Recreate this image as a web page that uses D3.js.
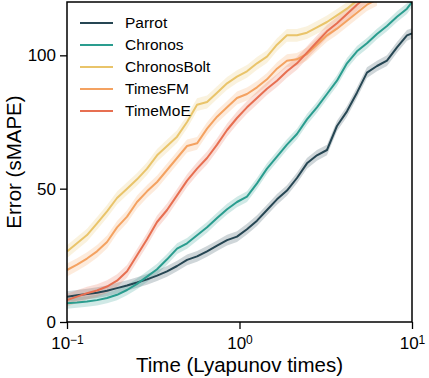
<!DOCTYPE html>
<html>
<head>
<meta charset="utf-8">
<script src="https://cdn.jsdelivr.net/npm/d3@7"></script>
<style>
  body { margin: 0; background: #fff; }
  svg { display: block; font-family: "Liberation Sans", Arial, Helvetica, sans-serif; }
</style>
</head>
<body>
<svg width="429" height="378"></svg>
<script>
// time grid (Lyapunov times), shared by every model
var times = [0.1, 0.1143, 0.1306, 0.1493, 0.1706, 0.195, 0.2229, 0.2547, 0.2911, 0.3327,
  0.3802, 0.4345, 0.4966, 0.5675, 0.6486, 0.7413, 0.8472, 0.967, 1.105, 1.263,
  1.443, 1.649, 1.884, 2.153, 2.461, 2.812, 3.214, 3.673, 4.198, 4.797,
  5.482, 6.265, 7.16, 8.183, 9.352, 10];

var models = ["Parrot", "Chronos", "ChronosBolt", "TimesFM", "TimeMoE"];
var colors = ["#264653", "#2a9d8f", "#e9c46a", "#f4a261", "#e76f51"];

// sMAPE per model
var parrot = [9.5, 10.0, 10.5, 11.0, 11.7, 12.7, 13.7, 14.8, 16.0, 17.4,
  19.0, 21.0, 23.3, 24.6, 26.5, 28.6, 30.7, 32.0, 34.8, 38.0,
  42.0, 46.0, 49.3, 54.0, 59.5, 62.5, 64.5, 73.5, 79.0, 86.0,
  93.5, 96.0, 98.0, 103.0, 107.5, 108.2];
var chronos = [7.0, 7.3, 7.7, 8.2, 9.0, 10.2, 12.0, 14.3, 17.0, 19.8,
  23.5, 27.5, 29.5, 32.5, 35.5, 39.0, 42.3, 45.0, 47.0, 52.0,
  57.5, 62.0, 66.5, 70.5, 76.0, 80.5, 85.5, 90.5, 97.0, 101.5,
  104.5, 108.0, 111.0, 114.5, 117.5, 120.0];
var chronosBolt = [26.4, 29.5, 32.6, 37.0, 41.5, 46.5, 50.0, 53.5, 57.5, 62.5,
  66.0, 69.5, 75.0, 81.5, 82.5, 86.0, 89.5, 92.0, 94.0, 97.0,
  99.5, 104.0, 107.5, 107.5, 108.5, 110.5, 112.5, 115.0, 117.5, 120.5];
var timesFM = [19.5, 21.5, 23.8, 26.5, 30.0, 35.5, 39.5, 45.0, 49.0, 52.5,
  57.0, 61.5, 66.0, 67.0, 72.5, 77.0, 80.5, 84.0, 85.5, 88.0,
  91.0, 95.0, 98.0, 98.5, 100.5, 104.0, 107.5, 110.0, 113.0, 116.0,
  119.0, 121.0];
var timeMoE = [8.2, 9.5, 10.8, 11.8, 13.3, 15.5, 19.0, 25.0, 31.0, 37.5,
  42.0, 47.5, 53.0, 57.5, 61.5, 66.5, 72.0, 76.5, 80.5, 84.0,
  87.5, 90.5, 94.0, 97.0, 101.0, 105.0, 109.0, 112.0, 115.5, 119.0,
  122.0];

// half width of the shaded band
var bandHalf = [2.0, 2.0, 2.4, 2.4, 2.4];

var seriesValues = [parrot, chronos, chronosBolt, timesFM, timeMoE];

var svg = d3.select("svg"),
  margin = {top: 2, right: 17, bottom: 56, left: 67},
  width = +svg.attr("width") - margin.left - margin.right,
  height = +svg.attr("height") - margin.top - margin.bottom,
  g = svg.append("g").attr("transform", "translate(" + margin.left + "," + margin.top + ")");

var x = d3.scaleLog().domain([0.1, 10]).range([0, width]);
var y = d3.scaleLinear().domain([0, 120]).range([height, 0]);

g.append("clipPath").attr("id", "clip")
  .append("rect").attr("width", width).attr("height", height);

var plot = g.append("g").attr("clip-path", "url(#clip)");

var area = d3.area()
  .x(function(d) { return x(d.t); })
  .y0(function(d) { return y(d.v - d.h); })
  .y1(function(d) { return y(d.v + d.h); });

var line = d3.line()
  .x(function(d) { return x(d.t); })
  .y(function(d) { return y(d.v); });

seriesValues.forEach(function(vals, i) {
  var pts = vals.map(function(v, j) { return {t: times[j], v: v, h: bandHalf[i]}; });
  plot.append("path")
    .datum(pts)
    .attr("fill", colors[i])
    .attr("fill-opacity", 0.22)
    .attr("d", area);
});

seriesValues.forEach(function(vals, i) {
  var pts = vals.map(function(v, j) { return {t: times[j], v: v}; });
  plot.append("path")
    .datum(pts)
    .attr("fill", "none")
    .attr("stroke", colors[i])
    .attr("stroke-width", 2)
    .attr("stroke-linejoin", "round")
    .attr("d", line);
});

// axes
var xAxis = g.append("g")
  .attr("transform", "translate(0," + height + ")")
  .call(d3.axisBottom(x).tickValues([0.1, 1, 10]).tickSize(7).tickFormat(""));

xAxis.selectAll(".tick").append("text")
  .attr("fill", "#000")
  .attr("y", 27)
  .attr("text-anchor", "middle")
  .style("font-size", "17px")
  .each(function(d) {
    var e = Math.round(Math.log10(d));
    var t = d3.select(this);
    t.append("tspan").text("10");
    t.append("tspan").attr("dy", "-0.45em").style("font-size", "12px")
      .text(e < 0 ? "\u2212" + (-e) : String(e));
  });

g.append("g")
  .call(d3.axisLeft(y).tickValues([0, 50, 100]).tickSize(7).tickPadding(4))
  .selectAll("text")
  .attr("fill", "#000")
  .style("font-size", "17px");

g.selectAll(".domain").remove();
g.selectAll(".tick line").attr("stroke", "#000").attr("stroke-width", 1.3);

g.append("rect")
  .attr("width", width).attr("height", height)
  .attr("fill", "none").attr("stroke", "#000").attr("stroke-width", 1.5);

// axis titles
svg.append("text")
  .attr("x", margin.left + width / 2)
  .attr("y", 372)
  .attr("text-anchor", "middle")
  .style("font-size", "20.5px")
  .text("Time (Lyapunov times)");

svg.append("text")
  .attr("transform", "translate(21," + (margin.top + height / 2) + ") rotate(-90)")
  .attr("text-anchor", "middle")
  .style("font-size", "20.5px")
  .text("Error (sMAPE)");

// legend
var legend = g.append("g").attr("transform", "translate(13,21)");
models.forEach(function(name, i) {
  var row = legend.append("g").attr("transform", "translate(0," + (i * 22) + ")");
  row.append("line")
    .attr("x1", 0).attr("x2", 33)
    .attr("stroke", colors[i]).attr("stroke-width", 2);
  row.append("text")
    .attr("x", 45).attr("dy", "0.35em")
    .style("font-size", "15.5px")
    .text(name);
});
</script>
</body>
</html>
